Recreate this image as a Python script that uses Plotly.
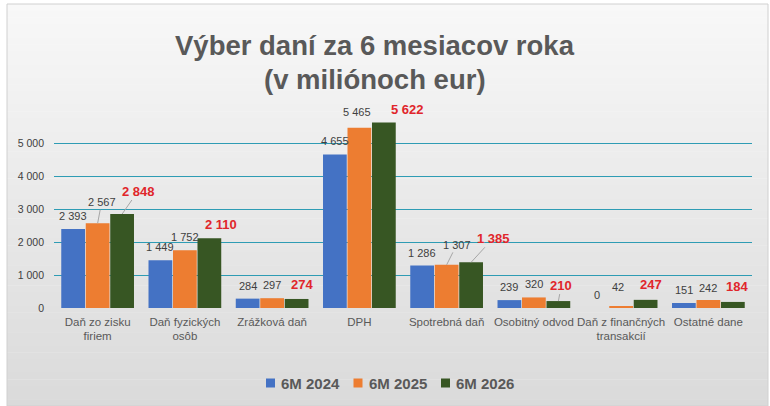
import plotly.graph_objects as go

categories = ["Daň zo zisku<br>firiem", "Daň fyzických<br>osôb", "Zrážková daň", "DPH",
              "Spotrebná daň", "Osobitný odvod", "Daň z finančných<br>transakcií", "Ostatné dane"]
series_names = ["6M 2024", "6M 2025", "6M 2026"]
values_2024 = [2393, 1449, 284, 4655, 1286, 239, 0, 151]
values_2025 = [2567, 1752, 297, 5465, 1307, 320, 42, 242]
values_2026 = [2848, 2110, 274, 5622, 1385, 210, 247, 184]
y_ticks = [0, 1000, 2000, 3000, 4000, 5000]
title_lines = ["Výber daní za 6 mesiacov roka", "(v miliónoch eur)"]

# data-label placement nudges (px: right, up) as dragged in the original chart
LABEL_NUDGE = [
    [(0, 13)] * 8,
    [(4, 21), (0, 13), (0, 13), (-2, 16), (10, 20), (0, 13), (-3, 20), (0, 12)],
    [(16, 23), (12, 14), (5, 14), (24, 13), (22, 24), (3, 16), (5, 15), (4, 15)],
]
LEADER = [
    [False] * 8,
    [True, False, False, False, True, False, False, False],
    [True, False, False, False, True, True, False, False],
]

colors = ["#4472C4", "#ED7D31", "#375623"]
FONT = "Liberation Sans, Arial, sans-serif"
W, H = 770, 406
L, R, T, B = 54, 18, 110, 98
PW, PH = W - L - R, H - T - B
BAR_W = 24.5


def px(x):
    return (x - L) / PW


def py(y):
    return (H - B - y) / PH


def fmt(v):
    return f"{v:,}".replace(",", " ")


fig = go.Figure()
all_vals = [values_2024, values_2025, values_2026]
for name, vals, c in zip(series_names, all_vals, colors):
    fig.add_trace(go.Bar(x=categories, y=vals, name=name, marker=dict(color=c, line=dict(width=0)),
                         hoverinfo="skip", showlegend=False))

# background gradient of the chart area
shapes = []
n = 60
top, bot = (248, 248, 248), (218, 218, 218)
x0, x1, y0, y1 = 7, 768, 4, 406
for i in range(n):
    t = i / (n - 1)
    col = tuple(int(round(top[k] + (bot[k] - top[k]) * t)) for k in range(3))
    ya = y0 + (y1 - y0) * i / n
    yb = y0 + (y1 - y0) * (i + 1) / n
    shapes.append(dict(type="rect", xref="paper", yref="paper", x0=px(x0), x1=px(x1),
                       y0=py(yb) - 0.002, y1=py(ya), fillcolor="rgb(%d,%d,%d)" % col,
                       line=dict(width=0), layer="below"))
shapes.append(dict(type="rect", xref="paper", yref="paper", x0=px(x0), x1=px(x1),
                   y0=py(y1), y1=py(y0), line=dict(color="#d0d0d0", width=1),
                   fillcolor="rgba(0,0,0,0)", layer="below"))

annotations = []
for i, line in enumerate(title_lines):
    annotations.append(dict(text="<b>%s</b>" % line, xref="paper", yref="paper",
                            x=px(375), y=py(45 + 34 * i), xanchor="center", yanchor="middle",
                            showarrow=False, font=dict(family=FONT, size=27.5, color="#595959")))

# legend (drawn as squares + labels)
leg_x0, leg_step, leg_y, sq = 266, 87.5, 383, 9
for i, (name, c) in enumerate(zip(series_names, colors)):
    lx = leg_x0 + i * leg_step
    shapes.append(dict(type="rect", xref="paper", yref="paper", x0=px(lx), x1=px(lx + sq),
                       y0=py(leg_y + sq / 2), y1=py(leg_y - sq / 2), fillcolor=c,
                       line=dict(width=0)))
    annotations.append(dict(text="<b>%s</b>" % name, xref="paper", yref="paper",
                            x=px(lx + sq + 4), y=py(leg_y), xanchor="left", yanchor="middle",
                            showarrow=False, font=dict(family=FONT, size=15, color="#595959")))

for s, vals in enumerate(all_vals):
    for j, (cat, v) in enumerate(zip(categories, vals)):
        red = s == 2
        dx, dy = LABEL_NUDGE[s][j]
        font = dict(family=FONT, size=13 if red else 11, color="#E0262B" if red else "#404040")
        text = ("<b>%s</b>" % fmt(v)) if red else fmt(v)
        base = (s - 1) * BAR_W
        if LEADER[s][j]:
            annotations.append(dict(x=cat, y=v, xref="x", yref="y", text=text, font=font,
                                    showarrow=True, arrowhead=0, arrowwidth=1,
                                    arrowcolor="#A6A6A6", standoff=0, startstandoff=0,
                                    ax=dx, ay=-dy, xshift=base))
        else:
            annotations.append(dict(x=cat, y=v, xref="x", yref="y", text=text, font=font,
                                    showarrow=False, xshift=base + dx, yshift=dy,
                                    yanchor="middle"))

fig.update_layout(
    width=W, height=H,
    margin=dict(l=L, r=R, t=T, b=B, pad=0),
    paper_bgcolor="white", plot_bgcolor="rgba(0,0,0,0)",
    barmode="group", bargap=0.158, bargroupgap=0.03,
    showlegend=False,
    xaxis=dict(showgrid=False, showline=False, zeroline=False, ticks="",
               tickfont=dict(family=FONT, size=11.5, color="#595959"), ticklabelstandoff=5,
               fixedrange=True),
    yaxis=dict(range=[0, 6000], tickvals=y_ticks, ticktext=[fmt(v) for v in y_ticks],
               showgrid=True, gridcolor="#2E9CB4", gridwidth=1, zeroline=False, showline=False,
               tickfont=dict(family=FONT, size=10.5, color="#404040"), ticklabelstandoff=9),
    shapes=shapes, annotations=annotations,
    hovermode=False,
)

fig.write_html("out.html")
